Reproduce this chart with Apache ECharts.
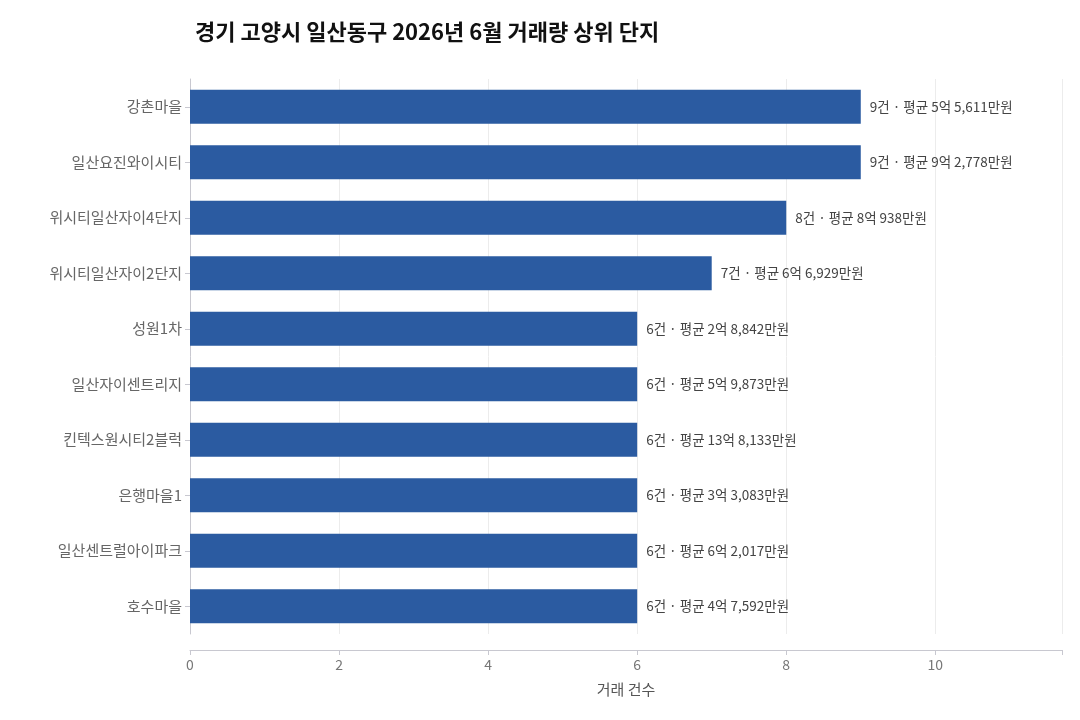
<!DOCTYPE html>
<html>
<head>
<meta charset="utf-8">
<script src="https://cdn.jsdelivr.net/npm/echarts@6/dist/echarts.min.js"></script>
<style>html,body{margin:0;padding:0;background:#fff}#chart{width:1080px;height:720px}</style>
</head>
<body>
<div id="chart"></div>
<script>
var complexes = ["강촌마을", "일산요진와이시티", "위시티일산자이4단지", "위시티일산자이2단지", "성원1차",
    "일산자이센트리지", "킨텍스원시티2블럭", "은행마을1", "일산센트럴아이파크", "호수마을"];
var counts = [9, 9, 8, 7, 6, 6, 6, 6, 6, 6];
var avgPrices = ["5억 5,611만원", "9억 2,778만원", "8억 938만원", "6억 6,929만원", "2억 8,842만원",
    "5억 9,873만원", "13억 8,133만원", "3억 3,083만원", "6억 2,017만원", "4억 7,592만원"];
var xTicks = [0, 2, 4, 6, 8, 10];

var font = "'Noto Sans CJK KR', 'Noto Sans', sans-serif";
var chart = echarts.init(document.getElementById("chart"));
chart.setOption({
    textStyle: {fontFamily: font},
    title: {
        text: "경기 고양시 일산동구 2026년 6월 거래량 상위 단지",
        left: 190, top: 16,
        textStyle: {fontSize: 22, fontWeight: "bold", color: "#111", fontFamily: font}
    },
    grid: {left: 190, right: 18, top: 79, bottom: 86},
    xAxis: {
        type: "value", min: 0, max: 11.7, interval: 2, offset: 16,
        name: "거래 건수", nameLocation: "middle", nameGap: 32,
        nameTextStyle: {fontSize: 15, color: "#555"},
        axisLine: {show: true, lineStyle: {color: "#c8c8d0"}},
        axisTick: {show: true, lineStyle: {color: "#c8c8d0"}},
        axisLabel: {
            color: "#777", fontSize: 14,
            formatter: function(v) { return xTicks.indexOf(v) >= 0 ? v : ""; }
        },
        splitLine: {lineStyle: {color: "#ececec"}}
    },
    yAxis: {
        type: "category", inverse: true, data: complexes,
        axisLine: {show: true, lineStyle: {color: "#c8c8d0"}},
        axisTick: {show: true, alignWithLabel: true, lineStyle: {color: "#c8c8d0"}},
        axisLabel: {color: "#666", fontSize: 15}
    },
    series: [{
        type: "bar",
        data: counts,
        barWidth: "61%",
        itemStyle: {color: "#2b5ba1"},
        label: {
            show: true, position: "right", distance: 9,
            color: "#444", fontSize: 13.5,
            formatter: function(p) { return p.value + "건 · 평균 " + avgPrices[p.dataIndex]; }
        }
    }]
});
</script>
</body>
</html>
